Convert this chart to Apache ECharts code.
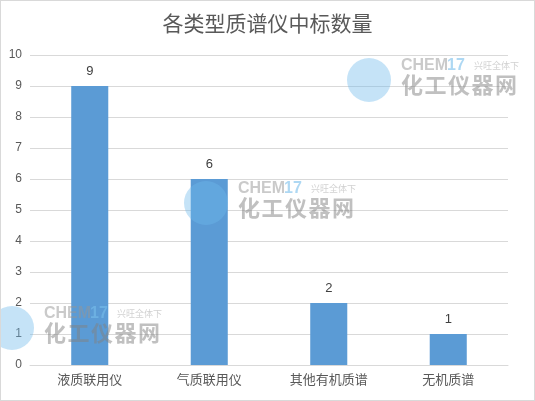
<!DOCTYPE html>
<html>
<head>
<meta charset="utf-8">
<script src="https://cdn.jsdelivr.net/npm/echarts@6/dist/echarts.min.js"></script>
<style>
html,body{margin:0;padding:0;background:#fff;}
#main{width:533px;height:399px;border:1px solid #d9d9d9;}
</style>
</head>
<body>
<div id="main"></div>
<script>
var categories=['液质联用仪','气质联用仪','其他有机质谱','无机质谱'];
var counts=[9,6,2,1];
var yTicks={min:0,max:10,interval:1};

// watermark: x0/y0 = left and cap top of "CHEM17"
function watermark(x0,y0){
    var els=[
        {type:'circle',left:x0-54,top:y0-3,shape:{r:22},style:{fill:'rgba(110,185,235,0.4)'},z:100},
        {type:'text',left:x0,top:y0-3,style:{text:'CHEM',font:'bold 16px Arial',fill:'rgba(150,150,150,0.5)'},z:100},
        {type:'text',left:x0+46,top:y0-3,style:{text:'17',font:'bold 16px Arial',fill:'rgba(120,190,235,0.6)'},z:100},
        {type:'text',left:x0+73,top:y0,style:{text:'兴旺全体下',font:'9px "Noto Sans CJK SC"',fill:'rgba(150,150,150,0.45)'},z:100}
    ];
    var chars='化工仪器网';
    for(var i=0;i<chars.length;i++){
        els.push({type:'text',left:x0+i*23.5,top:y0+13,style:{text:chars[i],font:'bold 22px "Noto Sans CJK SC"',fill:'rgba(130,130,130,0.5)'},z:100});
    }
    return els;
}

var myChart=echarts.init(document.getElementById('main'));
var option={
    animation:false,
    title:{
        text:'各类型质谱仪中标数量',
        left:'center',
        top:7,
        textStyle:{color:'#595959',fontSize:21,fontWeight:'normal',fontFamily:'"Noto Sans CJK SC"'}
    },
    grid:{left:29,right:26,top:54,bottom:35},
    xAxis:{
        type:'category',
        data:categories,
        axisLine:{lineStyle:{color:'#d9d9d9'}},
        axisTick:{show:false},
        axisLabel:{color:'#595959',fontSize:13,margin:8,fontFamily:'"Noto Sans CJK SC"'}
    },
    yAxis:{
        type:'value',
        min:yTicks.min,
        max:yTicks.max,
        interval:yTicks.interval,
        axisLine:{show:false},
        axisTick:{show:false},
        axisLabel:{color:'#595959',fontSize:12,margin:8},
        splitLine:{lineStyle:{color:'#d9d9d9'}}
    },
    series:[{
        type:'bar',
        data:counts,
        barWidth:'31%',
        itemStyle:{color:'#5b9bd5'},
        label:{show:true,position:'top',distance:8,color:'#404040',fontSize:13}
    }],
    graphic:[].concat(watermark(400,60),watermark(237,183),watermark(43,308))
};
myChart.setOption(option);
</script>
</body>
</html>
